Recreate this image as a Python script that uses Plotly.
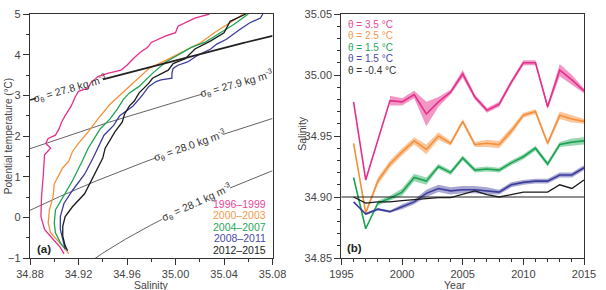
import numpy as np
import plotly.graph_objects as go

# ---------------- data: panel (a) theta-S profiles ----------------
P1_LABEL = "1996–1999"
P1_THETA = [-0.90, -0.74, -0.54, -0.30, 0.02, 0.50, 1.06, 1.54, 1.70, 1.82, 1.94, 2.02, 2.18, 2.34, 2.50,
            2.74, 2.94, 3.10, 3.18, 3.30, 3.46, 3.54, 3.62, 3.74, 3.90, 4.06, 4.18, 4.30, 4.46, 4.54,
            4.70, 4.90, 5.00]
P1_SAL = [34.908, 34.905, 34.899, 34.892, 34.889, 34.8895, 34.891, 34.892, 34.897, 34.893, 34.895, 34.901,
          34.904, 34.906, 34.909, 34.914, 34.917, 34.920, 34.928, 34.930, 34.936, 34.944, 34.955, 34.960,
          34.965, 34.971, 34.977, 34.980, 34.992, 35.000, 35.002, 35.016, 35.028]

P2_LABEL = "2000–2003"
P2_THETA = [-0.90, -0.74, -0.58, -0.38, -0.14, 0.18, 0.50, 0.82, 1.22, 1.38, 1.62, 1.82, 2.10, 2.42, 2.78,
            3.06, 3.38, 3.66, 3.86, 3.98, 4.14, 4.30, 4.54, 4.74, 5.00]
P2_SAL = [34.912, 34.908, 34.903, 34.897, 34.895, 34.896, 34.899, 34.900, 34.907, 34.912, 34.915, 34.920,
          34.928, 34.936, 34.946, 34.956, 34.968, 34.978, 34.992, 35.000, 35.010, 35.021, 35.032, 35.042,
          35.056]

P3_LABEL = "2004–2007"
P3_THETA = [-0.78, -0.62, -0.38, -0.14, 0.18, 0.50, 0.90, 1.38, 1.70, 1.94, 2.18, 2.42, 2.66, 2.90, 3.06,
            3.22, 3.54, 3.82, 3.98, 4.18, 4.30, 4.54, 4.74, 5.00]
P3_SAL = [34.909, 34.905, 34.901, 34.900, 34.901, 34.907, 34.915, 34.923, 34.928, 34.933, 34.938, 34.946,
          34.952, 34.957, 34.962, 34.970, 34.981, 34.992, 35.001, 35.013, 35.024, 35.037, 35.048, 35.060]

P4_LABEL = "2008–2011"
P4_THETA = [-0.78, -0.54, -0.30, 0.02, 0.34, 0.66, 1.06, 1.46, 1.70, 2.02, 2.26, 2.50, 2.74, 2.98, 3.22,
            3.34, 3.38, 3.42, 3.54, 3.66, 3.74, 3.82, 3.98, 4.14, 4.26, 4.38, 4.62, 4.78, 4.90, 5.00]
P4_SAL = [34.909, 34.907, 34.905, 34.905, 34.908, 34.915, 34.925, 34.932, 34.936, 34.941, 34.949, 34.954,
          34.965, 34.972, 34.978, 34.984, 34.988, 34.997, 34.997, 34.998, 35.002, 35.010, 35.018, 35.029,
          35.034, 35.042, 35.053, 35.061, 35.070, 35.072]

P5_LABEL = "2012–2015"
P5_THETA = [-0.82, -0.70, -0.46, -0.22, 0.02, 0.26, 0.58, 1.06, 1.46, 1.70, 1.90, 2.10, 2.34, 2.54, 2.74,
            2.86, 3.06, 3.30, 3.42, 3.50, 3.62, 3.78, 3.90, 4.14, 4.34, 4.54, 4.82, 5.00]
P5_SAL = [34.911, 34.909, 34.907, 34.907, 34.909, 34.915, 34.925, 34.933, 34.940, 34.942, 34.946, 34.950,
          34.956, 34.958, 34.962, 34.966, 34.970, 34.978, 34.981, 34.986, 34.994, 34.998, 35.008, 35.016,
          35.029, 35.040, 35.045, 35.058]

SIGMA_LEVELS = [27.8, 27.9, 28.0, 28.1]

# ---------------- data: panel (b) time series ----------------
YEARS = list(range(1996, 2016))
T35_LABEL = "θ = 3.5 °C"
T35_SAL = [34.978, 34.914, None, 34.979, 34.978, 34.984, 34.968, 34.978, 34.986, 35.001, 34.982, 34.971,
           34.976, 34.994, 35.010, 35.010, 34.974, 35.004, 34.996, 34.987]
T35_ERR = [None, None, None, 0.004, 0.003, 0.003, 0.010, 0.004, 0.002, 0.003, 0.002, 0.002, 0.002, 0.002,
           0.002, 0.002, 0.002, 0.005, 0.004, 0.002]
T25_LABEL = "θ = 2.5 °C"
T25_SAL = [34.944, 34.887, 34.913, 34.927, 34.937, 34.946, 34.939, 34.950, 34.944, 34.962, 34.943, 34.944,
           34.943, 34.954, 34.967, 34.970, 34.944, 34.967, 34.964, 34.962]
T25_ERR = [None, 0.001, 0.003, 0.003, 0.003, 0.003, 0.004, 0.003, 0.002, 0.002, 0.002, 0.003, 0.003, 0.003,
           0.002, 0.002, 0.002, 0.003, 0.003, 0.002]
T15G_LABEL = "θ = 1.5 °C"
T15G_SAL = [34.916, 34.874, 34.895, 34.899, 34.904, 34.916, 34.913, 34.925, 34.920, 34.932, 34.922, 34.923,
            34.922, 34.928, 34.933, 34.940, 34.927, 34.943, 34.945, 34.946]
T15G_ERR = [None, None, 0.002, 0.002, 0.003, 0.003, 0.003, 0.002, 0.002, 0.002, 0.002, 0.002, 0.002, 0.002,
            0.002, 0.002, 0.002, 0.002, 0.003, 0.003]
T15B_LABEL = "θ = 1.5 °C"
T15B_SAL = [34.896, 34.886, 34.890, 34.888, 34.892, 34.896, 34.903, 34.907, 34.905, 34.906, 34.906, 34.905,
            34.904, 34.910, 34.912, 34.913, 34.913, 34.918, 34.918, 34.924]
T15B_ERR = [None, 0.001, 0.001, 0.001, 0.002, 0.002, 0.003, 0.003, 0.003, 0.003, 0.003, 0.003, 0.002, 0.002,
            0.002, 0.002, 0.002, 0.002, 0.002, 0.002]
TM04_LABEL = "θ = -0.4 °C"
TM04_SAL = [34.900, 34.895, 34.896, 34.896, 34.897, 34.898, 34.899, 34.8995, 34.8995, 34.902, 34.905, 34.902,
            34.900, 34.902, 34.904, 34.904, 34.904, 34.910, 34.907, 34.914]
REF_SAL = 34.90

# ---------------- layout constants ----------------
W, H = 606, 290
ML, MR, MT, MB = 27, 8, 8, 32
PW = W - ML - MR
PH = H - MT - MB
A_X0, A_X1 = 27, 277          # pixel extents of panel a
B_X0, B_X1 = 348, 598          # pixel extents of panel b
A_DOM = [(A_X0 - ML) / PW, (A_X1 - ML) / PW]
B_DOM = [(B_X0 - ML) / PW, (B_X1 - ML) / PW]
A_XR, A_YR = [34.88, 35.08], [-1, 5]
B_XR, B_YR = [1995, 2015], [34.85, 35.05]
PX_PER_S = (A_X1 - A_X0) / (A_XR[1] - A_XR[0])
PX_PER_T = PH / (A_YR[1] - A_YR[0])

FONT = "Liberation Sans, Arial, Helvetica, sans-serif"
C_MAG, C_ORA, C_GRN, C_BLU, C_BLK = "#e62e8b", "#f5903a", "#1ba552", "#3c3c9c", "#1a1a1a"
BAND = {C_MAG: "rgba(230,46,139,0.50)", C_ORA: "rgba(245,144,58,0.50)",
        C_GRN: "rgba(27,165,82,0.45)", C_BLU: "rgba(60,60,156,0.45)"}

# isopycnal label style: (level, gap start S, gap end S, line width)
ISO_STYLE = {27.8: (34.8853, 34.9397, 1.7), 27.9: (35.0224, 35.09, 0.8),
             28.0: (34.9838, 35.0384, 0.8), 28.1: (34.9890, 35.0448, 0.8)}


# ---------------- helpers ----------------
def sigma0(S, T):
    """UNESCO EOS-80 density anomaly at surface pressure."""
    rw = (999.842594 + 6.793952e-2 * T - 9.095290e-3 * T**2 + 1.001685e-4 * T**3
          - 1.120083e-6 * T**4 + 6.536332e-9 * T**5)
    A = 8.24493e-1 - 4.0899e-3 * T + 7.6438e-5 * T**2 - 8.2467e-7 * T**3 + 5.3875e-9 * T**4
    B = -5.72466e-3 + 1.0227e-4 * T - 1.6546e-6 * T**2
    C = 4.8314e-4
    return rw + A * S + B * S**1.5 + C * S**2 - 1000.0


def theta_on_isopycnal(S, sig):
    lo = np.full_like(S, -3.0)
    hi = np.full_like(S, 10.0)
    for _ in range(60):
        mid = 0.5 * (lo + hi)
        dense = sigma0(S, mid) > sig
        lo = np.where(dense, mid, lo)
        hi = np.where(dense, hi, mid)
    return 0.5 * (lo + hi)


fig = go.Figure()

# ---- isopycnals (panel a)
s_grid = np.linspace(A_XR[0], A_XR[1], 400)
iso_annots = []
thick_traces = []
for lev in SIGMA_LEVELS:
    g0, g1, lw = ISO_STYLE[lev]
    th = theta_on_isopycnal(s_grid, lev)
    xs, ys = [], []
    in_gap_done = False
    for s, t in zip(s_grid, th):
        if g0 < s < g1:
            if not in_gap_done:
                xs.append(None); ys.append(None)
                in_gap_done = True
            continue
        xs.append(float(s)); ys.append(float(t))
    tr = go.Scatter(x=xs, y=ys, mode="lines", line=dict(color="#222" if lw > 1 else "#3a3a3a", width=lw),
                    hoverinfo="skip", showlegend=False, xaxis="x", yaxis="y")
    if lw > 1:
        thick_traces.append(tr)
    else:
        fig.add_trace(tr)
    sc = 0.5 * (g0 + min(g1, A_XR[1] - 0.002))
    tc = float(theta_on_isopycnal(np.array([sc]), lev)[0])
    ds = 0.002
    t1 = float(theta_on_isopycnal(np.array([sc + ds]), lev)[0])
    ang = -np.degrees(np.arctan2((t1 - tc) * PX_PER_T, ds * PX_PER_S))
    iso_annots.append(dict(x=sc, y=tc, xref="x", yref="y", showarrow=False,
                           text=f"σ<sub>θ</sub> = {lev:.1f} kg m<sup>-3</sup>",
                           textangle=float(ang), xanchor="center", yanchor="middle",
                           font=dict(family=FONT, size=10.5, color="#333")))

# ---- profiles
profiles = [(P1_THETA, P1_SAL, C_MAG), (P2_THETA, P2_SAL, C_ORA), (P3_THETA, P3_SAL, C_GRN),
            (P4_THETA, P4_SAL, C_BLU), (P5_THETA, P5_SAL, C_BLK)]
for th, sa, col in profiles:
    fig.add_trace(go.Scatter(x=sa, y=th, mode="lines", line=dict(color=col, width=1.3),
                             hoverinfo="skip", showlegend=False, xaxis="x", yaxis="y"))
for tr in thick_traces:
    fig.add_trace(tr)

# ---- time series (panel b)
series = [(T35_SAL, T35_ERR, C_MAG), (T25_SAL, T25_ERR, C_ORA), (T15G_SAL, T15G_ERR, C_GRN),
          (T15B_SAL, T15B_ERR, C_BLU), (TM04_SAL, None, C_BLK)]
for sal, err, col in series:
    if err is not None:
        pts = [(y, v, e) for y, v, e in zip(YEARS, sal, err) if v is not None and e is not None]
        bx = [p[0] for p in pts] + [p[0] for p in pts[::-1]]
        by = [p[1] + p[2] for p in pts] + [p[1] - p[2] for p in pts[::-1]]
        fig.add_trace(go.Scatter(x=bx, y=by, mode="lines", fill="toself", fillcolor=BAND[col],
                                 line=dict(width=0), hoverinfo="skip", showlegend=False,
                                 xaxis="x2", yaxis="y2"))
for sal, err, col in series:
    fig.add_trace(go.Scatter(x=YEARS, y=sal, mode="lines", connectgaps=True,
                             line=dict(color=col, width=1.6 if col != C_BLK else 1.3),
                             hoverinfo="skip", showlegend=False, xaxis="x2", yaxis="y2"))

fig.add_shape(type="line", xref="x2 domain", yref="y2", x0=0, x1=1, y0=REF_SAL, y1=REF_SAL,
              line=dict(color="#222", width=1.2))

# ---- axes
axis_common = dict(showline=True, linecolor="#333", linewidth=1.3, mirror=True, ticks="outside",
                   ticklen=6, tickwidth=1, tickcolor="#333", showgrid=False, zeroline=False,
                   tickfont=dict(family=FONT, size=11, color="#444"), ticklabeloverflow="allow")
minor_common = dict(ticks="outside", ticklen=3, tickcolor="#333", showgrid=False)

fig.update_layout(
    width=W, height=H, margin=dict(l=ML, r=MR, t=MT, b=MB),
    paper_bgcolor="white", plot_bgcolor="white", showlegend=False,
    xaxis=dict(domain=A_DOM, range=A_XR, tickmode="array",
               tickvals=[34.88, 34.92, 34.96, 35.00, 35.04, 35.08],
               ticktext=["34.88", "34.92", "34.96", "35.00", "35.04", "35.08"],
               minor=dict(dtick=0.02, tick0=34.88, **minor_common), anchor="y", **axis_common),
    yaxis=dict(domain=[0, 1], range=A_YR, dtick=1, tick0=0, anchor="x",
               minor=dict(dtick=0.5, tick0=0, **minor_common), **axis_common),
    xaxis2=dict(domain=B_DOM, range=B_XR, dtick=5, tick0=1995, anchor="y2",
                minor=dict(dtick=1, tick0=1995, **minor_common), **axis_common),
    yaxis2=dict(domain=[0, 1], range=B_YR, dtick=0.05, tick0=34.85, tickformat=".2f", anchor="x2",
                minor=dict(dtick=0.01, tick0=34.85, **minor_common), **axis_common),
)

annots = list(iso_annots)


def px_to_paper_x(px):
    return (px - ML) / PW


def px_to_paper_y(py):
    return (H - MB - py) / PH


# panel a legend
leg_a = [(P1_LABEL, "#e8479a"), (P2_LABEL, "#f39a4d"), (P3_LABEL, "#26a85a"),
         (P4_LABEL, "#4a4aa8"), (P5_LABEL, "#222")]
for i, (txt, col) in enumerate(leg_a):
    annots.append(dict(x=px_to_paper_x(272), y=px_to_paper_y(202.5 + i * 11.8), xref="paper", yref="paper",
                       text=txt, showarrow=False, xanchor="right", yanchor="middle",
                       font=dict(family=FONT, size=10.5, color=col)))
# panel b legend
leg_b = [(T35_LABEL, "#e8479a"), (T25_LABEL, "#f39a4d"), (T15G_LABEL, "#26a85a"),
         (T15B_LABEL, "#4a4aa8"), (TM04_LABEL, "#333")]
for i, (txt, col) in enumerate(leg_b):
    annots.append(dict(x=px_to_paper_x(353), y=px_to_paper_y(18.3 + i * 11.85), xref="paper", yref="paper",
                       text=txt, showarrow=False, xanchor="left", yanchor="middle",
                       font=dict(family=FONT, size=10, color=col)))
# panel tags
annots.append(dict(x=px_to_paper_x(32), y=px_to_paper_y(249), xref="paper", yref="paper",
                   text="<b>(a)</b>", showarrow=False, xanchor="left", yanchor="middle",
                   font=dict(family=FONT, size=11.5, color="#222")))
annots.append(dict(x=px_to_paper_x(352), y=px_to_paper_y(248), xref="paper", yref="paper",
                   text="<b>(b)</b>", showarrow=False, xanchor="left", yanchor="middle",
                   font=dict(family=FONT, size=11.5, color="#222")))
# axis titles
annots.append(dict(x=px_to_paper_x(152), y=px_to_paper_y(285.5), xref="paper", yref="paper",
                   text="Salinity", showarrow=False, xanchor="center", yanchor="middle",
                   font=dict(family=FONT, size=10.5, color="#444")))
annots.append(dict(x=px_to_paper_x(465), y=px_to_paper_y(285.5), xref="paper", yref="paper",
                   text="Year", showarrow=False, xanchor="center", yanchor="middle",
                   font=dict(family=FONT, size=10.5, color="#444")))
annots.append(dict(x=px_to_paper_x(4.5), y=px_to_paper_y(133), xref="paper", yref="paper",
                   text="Potential temperature (°C)", showarrow=False, textangle=-90,
                   xanchor="center", yanchor="middle",
                   font=dict(family=FONT, size=10, color="#444")))
annots.append(dict(x=px_to_paper_x(307), y=px_to_paper_y(130), xref="paper", yref="paper",
                   text="Salinity", showarrow=False, textangle=-90,
                   xanchor="center", yanchor="middle",
                   font=dict(family=FONT, size=10.5, color="#444")))

fig.update_layout(annotations=annots)
fig.write_html("out.html")
